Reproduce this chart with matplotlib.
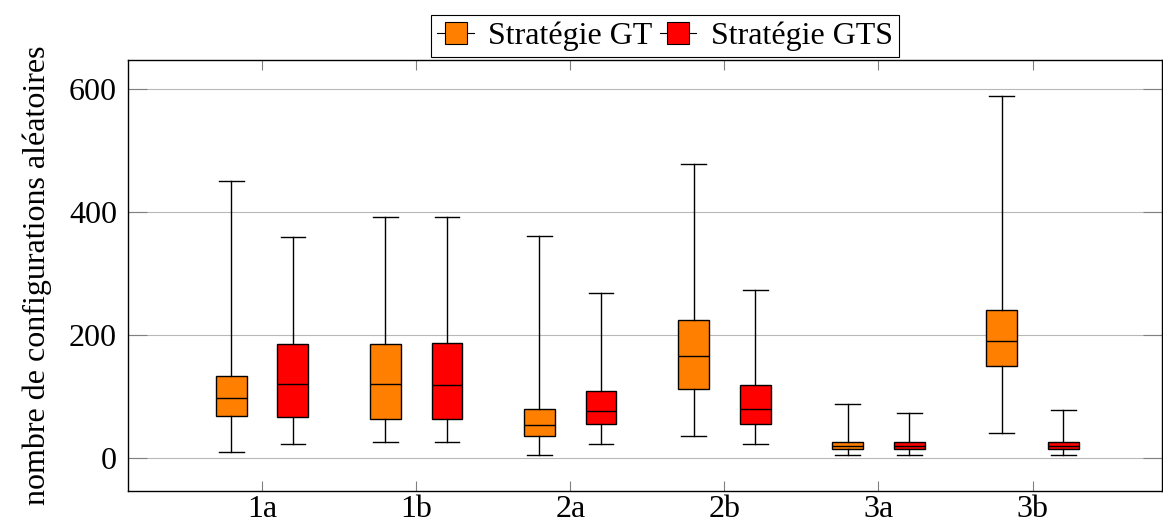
import matplotlib
matplotlib.use('Agg')
import matplotlib.pyplot as plt
from matplotlib.lines import Line2D

# categories and box statistics
categories = ['1a', '1b', '2a', '2b', '3a', '3b']

gt_whislo = [9, 26, 4, 36, 4, 41]
gt_q1 = [68, 63, 35, 112, 14, 150]
gt_med = [97, 120, 54, 166, 20, 191]
gt_q3 = [133, 185, 79, 225, 26, 241]
gt_whishi = [451, 393, 361, 479, 88, 589]

gts_whislo = [23, 26, 23, 22, 4, 4]
gts_q1 = [66, 63, 55, 55, 14, 14]
gts_med = [120, 119, 77, 79, 19, 19]
gts_q3 = [186, 187, 109, 119, 26, 26]
gts_whishi = [359, 393, 269, 273, 73, 78]

series_labels = ['Stratégie GT', 'Stratégie GTS']
series_colors = ['#ff8000', '#ff0000']
yticks = [0, 200, 400, 600]

plt.rcParams['font.family'] = ['Liberation Serif', 'DejaVu Serif']
FS = 23


def make_stats(lo, q1, med, q3, hi):
    return [dict(whislo=a, q1=b, med=c, q3=d, whishi=e, fliers=[])
            for a, b, c, d, e in zip(lo, q1, med, q3, hi)]


fig = plt.figure(figsize=(11.63, 5.25), dpi=100)
ax = fig.add_axes([128 / 1163, 34 / 525, (1162 - 128) / 1163, (491 - 60) / 525])

pos = list(range(1, len(categories) + 1))
all_stats = [
    make_stats(gt_whislo, gt_q1, gt_med, gt_q3, gt_whishi),
    make_stats(gts_whislo, gts_q1, gts_med, gts_q3, gts_whishi),
]
offsets = [-0.2, 0.2]

for stats, off, col in zip(all_stats, offsets, series_colors):
    ax.bxp(stats, positions=[p + off for p in pos], widths=0.2, capwidths=0.16,
           patch_artist=True, showfliers=False, manage_ticks=False,
           boxprops=dict(facecolor=col, edgecolor='black', linewidth=1.0),
           medianprops=dict(color='black', linewidth=1.0),
           whiskerprops=dict(color='black', linewidth=1.0),
           capprops=dict(color='black', linewidth=1.0))

ax.set_xlim(0.13, 6.84)
ax.set_ylim(-54, 648)
ax.set_xticks(pos)
ax.set_xticklabels(categories)
ax.set_yticks(yticks)
ax.yaxis.grid(True, color='#b8b8b8', linewidth=0.8)
ax.set_axisbelow(True)

ax.tick_params(axis='both', direction='in', color='#808080', labelsize=FS,
               top=True, right=True, width=0.8)
ax.tick_params(axis='y', length=14, pad=8)
ax.tick_params(axis='x', length=7, pad=3)
for s in ax.spines.values():
    s.set_linewidth(1.0)

ax.set_ylabel('nombre de configurations aléatoires', fontsize=FS, labelpad=12)

handles = [Line2D([0], [0], color='black', linewidth=0.8, marker='s', markersize=16,
                  markerfacecolor=c, markeredgecolor='black', markeredgewidth=0.8)
           for c in series_colors]
leg = fig.legend(handles, series_labels, loc='center', ncol=2,
                 bbox_to_anchor=(665 / 1163, 1 - 36 / 525), fontsize=FS,
                 frameon=True, fancybox=False, edgecolor='black', framealpha=1,
                 handlelength=1.15, handletextpad=0.45, columnspacing=0.22,
                 borderpad=0.2, borderaxespad=0)
leg.get_frame().set_linewidth(0.8)

fig.savefig('out.png', dpi=100)
